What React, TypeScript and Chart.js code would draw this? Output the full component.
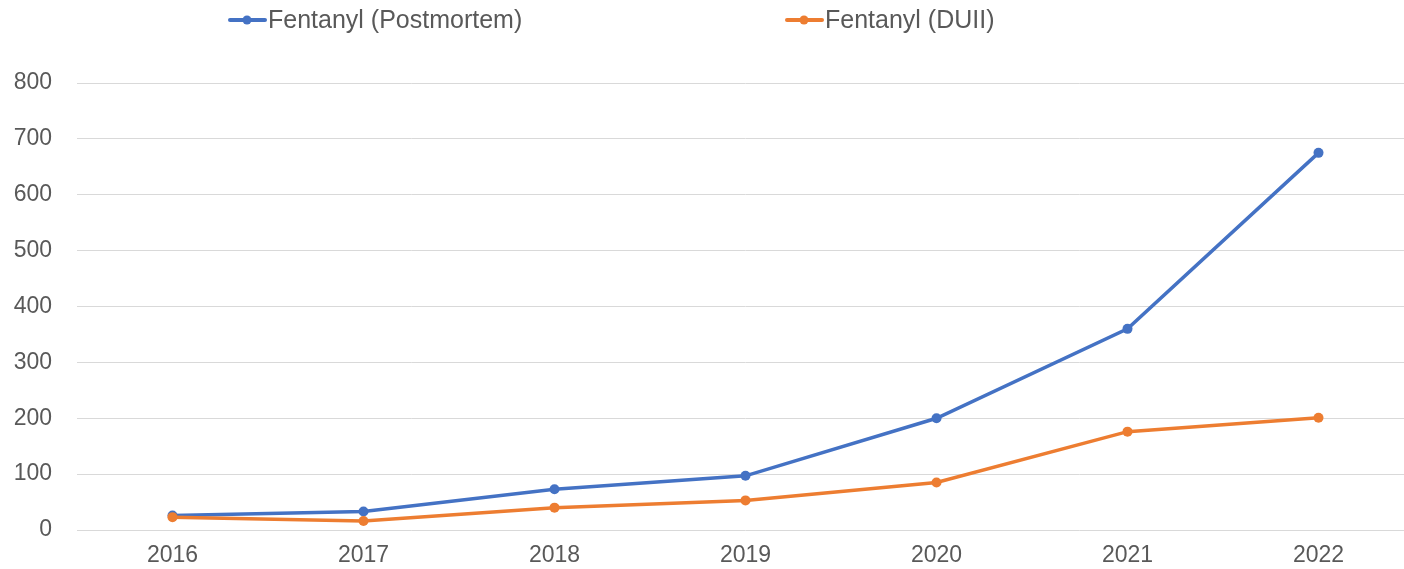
import React, { useEffect, useRef } from "react";
import { Chart, registerables } from "chart.js";

Chart.register(...registerables);

const years = ["2016", "2017", "2018", "2019", "2020", "2021", "2022"];
const postmortem = [26, 33, 73, 97, 200, 360, 675];
const duii = [23, 16, 40, 53, 85, 176, 201];
const seriesNames = ["Fentanyl (Postmortem)", "Fentanyl (DUII)"];
const seriesColors = ["#4472C4", "#ED7D31"];
const yMin = 0;
const yMax = 800;
const yStep = 100;

const FONT = "'Liberation Sans', Arial, sans-serif";

const legendPlugin = {
  id: "customLegend",
  afterDraw(chart: any) {
    const ctx = chart.ctx;
    const items = [
      { name: seriesNames[0], color: seriesColors[0], x: 228 },
      { name: seriesNames[1], color: seriesColors[1], x: 785 },
    ];
    const y = 20;
    ctx.save();
    items.forEach((it) => {
      ctx.strokeStyle = it.color;
      ctx.lineWidth = 4;
      ctx.lineCap = "round";
      ctx.beginPath();
      ctx.moveTo(it.x + 2, y);
      ctx.lineTo(it.x + 37, y);
      ctx.stroke();
      ctx.fillStyle = it.color;
      ctx.beginPath();
      ctx.arc(it.x + 19, y, 4.5, 0, Math.PI * 2);
      ctx.fill();
      ctx.fillStyle = "#595959";
      ctx.font = `25px ${FONT}`;
      ctx.textBaseline = "middle";
      ctx.textAlign = "left";
      ctx.fillText(it.name, it.x + 40, y + 1);
    });
    ctx.restore();
  },
};

export default function App() {
  const ref = useRef<HTMLCanvasElement | null>(null);
  useEffect(() => {
    if (!ref.current) return;
    const chart = new Chart(ref.current, {
      type: "line",
      data: {
        labels: years,
        datasets: [
          {
            label: seriesNames[1],
            data: duii,
            borderColor: seriesColors[1],
            backgroundColor: seriesColors[1],
            borderWidth: 3.5,
            pointRadius: 5,
            pointBorderWidth: 0,
            tension: 0,
            order: 0,
          },
          {
            label: seriesNames[0],
            data: postmortem,
            borderColor: seriesColors[0],
            backgroundColor: seriesColors[0],
            borderWidth: 3.5,
            pointRadius: 5,
            pointBorderWidth: 0,
            tension: 0,
            order: 1,
          },
        ],
      },
      options: {
        responsive: false,
        animation: false,
        layout: { padding: { top: 83, bottom: 0, left: 0, right: 0 } },
        plugins: {
          legend: { display: false },
          tooltip: { enabled: false },
        },
        scales: {
          x: {
            offset: true,
            grid: { display: false, drawTicks: false },
            border: { display: false },
            ticks: {
              color: "#595959",
              font: { family: FONT, size: 23 },
              padding: 12,
            },
            afterFit: (s: any) => {
              s.height = 39;
            },
          },
          y: {
            min: yMin,
            max: yMax,
            grid: { color: "#D9D9D9", lineWidth: 1, drawTicks: false },
            border: { display: false },
            ticks: {
              stepSize: yStep,
              color: "#595959",
              font: { family: FONT, size: 23 },
              padding: 25,
            },
            afterFit: (s: any) => {
              s.width = 77;
            },
          },
        },
      },
      plugins: [legendPlugin],
    });
    return () => chart.destroy();
  }, []);
  return (
    <div
      style={{
        position: "absolute",
        left: 0,
        top: 0,
        width: 1404,
        height: 569,
        overflow: "hidden",
        background: "#fff",
      }}
    >
      <canvas ref={ref} width={1419} height={569} />
    </div>
  );
}
